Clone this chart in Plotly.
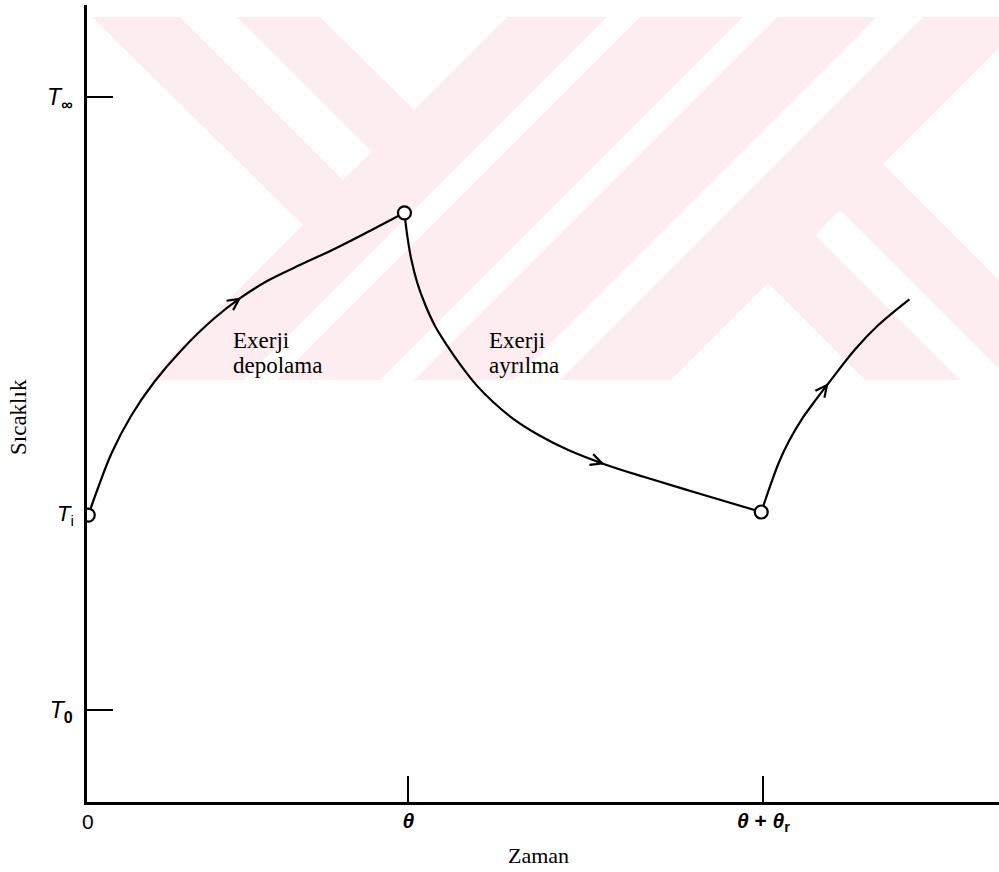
import plotly.graph_objects as go

# Reference levels: time in units of the storage period, temperature scaled
# so that the surroundings T0 = 0 and the source T_inf = 1.
THETA = 1.0
THETA_R = 1.11
T_ZERO = 0.0
T_INF = 1.0
T_INIT = 0.318
T_AXIS_MIN = -0.150
T_AXIS_MAX = 1.150

# Exergy storage branch (charging from T_i)
store_t = [0.000, 0.031, 0.072, 0.134, 0.206, 0.291, 0.394, 0.478, 0.563,
           0.666, 0.769, 0.878, 0.988]
store_T = [0.318, 0.363, 0.418, 0.480, 0.535, 0.587, 0.639, 0.673, 0.701,
           0.727, 0.752, 0.781, 0.811]
store_arrow = 7

# Exergy removal branch
rem_t = [0.988, 0.997, 1.009, 1.028, 1.053, 1.084, 1.122, 1.166, 1.213,
         1.266, 1.328, 1.406, 1.500, 1.613, 1.738, 1.916, 2.103]
rem_T = [0.811, 0.773, 0.736, 0.697, 0.661, 0.626, 0.594, 0.561, 0.530,
         0.502, 0.475, 0.449, 0.424, 0.401, 0.380, 0.352, 0.323]
rem_arrow = 13

# Next charging branch
rech_t = [2.103, 2.116, 2.134, 2.159, 2.191, 2.228, 2.275, 2.313, 2.394,
          2.469, 2.566]
rech_T = [0.323, 0.343, 0.370, 0.405, 0.440, 0.473, 0.507, 0.533, 0.587,
          0.628, 0.670]
rech_arrow = 7

ORIGIN_LABEL = "0"
x_tick_vals = [THETA, THETA + THETA_R]
x_tick_text = ["<b><i>θ</i></b>", "<b><i>θ</i> + <i>θ</i><sub>r</sub></b>"]
y_tick_vals = [T_ZERO, T_INF]
y_tick_text = ["<i>T</i><sub><b>0</b></sub>", "<i>T</i><sub><b>∞</b></sub>"]

branch_labels = [
    (0.447, ["Exerji", "depolama"]),
    (1.247, ["Exerji", "ayrılma"]),
]

W, H = 999, 872

# Light background logo band (page pixel units), drawn as a pink block
# with white cut-outs.
LOGO_BOX = (90, 17, 1000, 380)
LOGO_CUTS = [
    [(90, 17), (92, 17), (303, 225), (148, 380), (90, 380)],
    [(180, 17), (237, 17), (372, 152), (343, 180)],
    [(320, 17), (507, 17), (414, 110)],
    [(607, 17), (640, 17), (277, 380), (244, 380)],
    [(743, 17), (777, 17), (414, 380), (380, 380)],
    [(877, 17), (923, 17), (560, 380), (514, 380)],
    [(1000, 47), (883, 164), (1000, 281)],
    [(840, 210), (815, 235), (960, 380), (1000, 380), (1000, 370)],
    [(768, 283), (671, 380), (865, 380)],
]
LOGO_PINK = "#fdecf0"


def px(x, y):
    return x / W, 1 - y / H


def poly_path(pts):
    parts = []
    for i, (x, y) in enumerate(pts):
        u, v = px(x, y)
        parts.append(("M" if i == 0 else "L") + f"{u:.5f},{v:.5f}")
    return " ".join(parts) + " Z"


shapes = []
bx0, by0, bx1, by1 = LOGO_BOX
u0, v1 = px(bx0, by0)
u1, v0 = px(bx1, by1)
shapes.append(dict(type="rect", xref="paper", yref="paper", x0=u0, x1=u1,
                   y0=v0, y1=v1, fillcolor=LOGO_PINK, line=dict(width=0),
                   layer="below"))
for cut in LOGO_CUTS:
    shapes.append(dict(type="path", xref="paper", yref="paper",
                       path=poly_path(cut), fillcolor="white",
                       line=dict(width=0), layer="below"))

fig = go.Figure()

for t, T in [(store_t, store_T), (rem_t, rem_T), (rech_t, rech_T)]:
    fig.add_trace(go.Scatter(x=t, y=T, mode="lines",
                             line=dict(color="black", width=2.2,
                                       shape="spline", smoothing=1.0),
                             hoverinfo="skip", showlegend=False))

# State points at the start / end of each period
fig.add_trace(go.Scatter(
    x=[store_t[0], store_t[-1], rem_t[-1]],
    y=[store_T[0], store_T[-1], rem_T[-1]],
    mode="markers",
    marker=dict(symbol="circle", size=13, color="white",
                line=dict(color="black", width=2.2)),
    hoverinfo="skip", showlegend=False))

annotations = []

# Direction arrows along each branch
for t, T, k in [(store_t, store_T, store_arrow), (rem_t, rem_T, rem_arrow),
                (rech_t, rech_T, rech_arrow)]:
    dt = t[k + 1] - t[k - 1]
    dT = T[k + 1] - T[k - 1]
    annotations.append(dict(
        x=t[k], y=T[k], ax=t[k] - 0.15 * dt, ay=T[k] - 0.15 * dT,
        xref="x", yref="y", axref="x", ayref="y", text="",
        showarrow=True, arrowhead=5, arrowsize=1.25, arrowwidth=1.8,
        arrowcolor="black", standoff=0, startstandoff=0))

# Branch captions
for x0, lines in branch_labels:
    for i, line in enumerate(lines):
        annotations.append(dict(
            x=x0, y=0.602 - 0.040 * i, xref="x", yref="y", text=line,
            showarrow=False, xanchor="left", yanchor="middle",
            font=dict(family="Liberation Serif", size=23, color="black")))

# Initial temperature label (no tick mark at this level)
annotations.append(dict(
    x=0, y=T_INIT, xref="x", yref="y", text="<i>T</i><sub>i</sub>",
    showarrow=False, xanchor="right", yanchor="middle", xshift=-12,
    font=dict(family="Liberation Sans", size=22, color="black")))

# Time origin label (the origin carries no separate tick mark)
annotations.append(dict(
    x=0, y=T_AXIS_MIN, xref="x", yref="y", text=ORIGIN_LABEL,
    showarrow=False, xanchor="center", yanchor="top", yshift=-6,
    font=dict(family="Liberation Sans", size=21, color="black")))

# Axis titles
annotations.append(dict(
    x=538 / W, y=1 - 855 / H, xref="paper", yref="paper", text="Zaman",
    showarrow=False, xanchor="center", yanchor="middle",
    font=dict(family="Liberation Serif", size=22, color="black")))
annotations.append(dict(
    x=18 / W, y=1 - 417 / H, xref="paper", yref="paper", text="Sıcaklık",
    showarrow=False, xanchor="center", yanchor="middle", textangle=-90,
    font=dict(family="Liberation Serif", size=23, color="black")))

axis_common = dict(showgrid=False, zeroline=False, showline=True,
                   linecolor="black", linewidth=2.5, ticks="inside",
                   ticklen=26, tickwidth=2, tickcolor="black",
                   fixedrange=True)

fig.update_layout(
    width=W, height=H, autosize=False,
    margin=dict(l=0, r=0, t=0, b=0),
    paper_bgcolor="white", plot_bgcolor="rgba(0,0,0,0)",
    xaxis=dict(domain=[87 / W, 1.0], range=[-0.004, 2.846], tickmode="array",
               tickvals=x_tick_vals, ticktext=x_tick_text,
               ticklabelstandoff=-2,
               tickfont=dict(family="Liberation Sans", size=21,
                             color="black"),
               **axis_common),
    yaxis=dict(domain=[(H - 802) / H, (H - 5) / H],
               range=[T_AXIS_MIN, T_AXIS_MAX],
               tickmode="array", tickvals=y_tick_vals, ticktext=y_tick_text,
               ticklabelstandoff=7,
               tickfont=dict(family="Liberation Sans", size=23,
                             color="black"),
               **axis_common),
    shapes=shapes,
    annotations=annotations,
    showlegend=False,
)

fig.write_html("out.html", config={"displayModeBar": False})
